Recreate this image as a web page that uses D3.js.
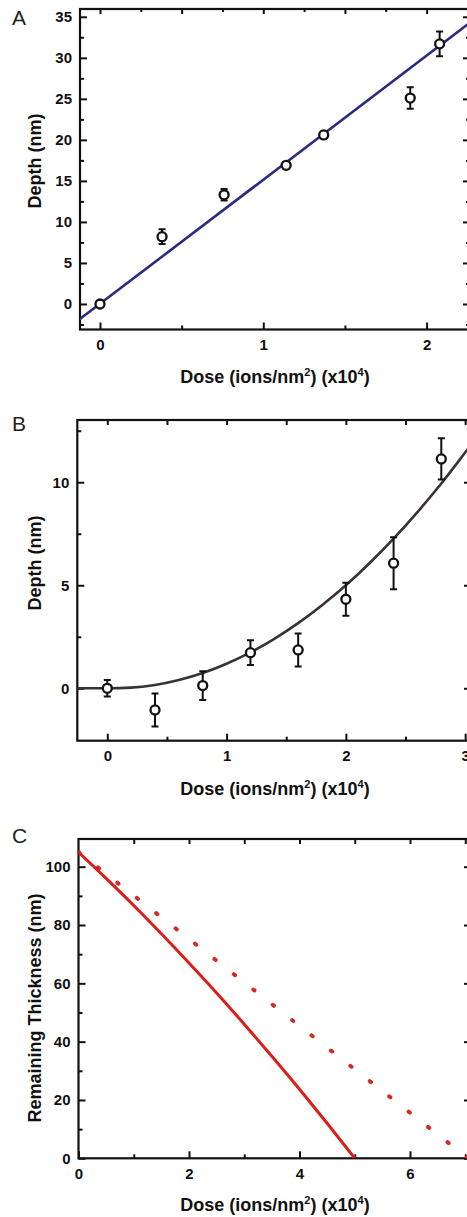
<!DOCTYPE html>
<html>
<head>
<meta charset="utf-8">
<script src="https://cdn.jsdelivr.net/npm/d3@7"></script>
<style>
  body { margin: 0; background: #fff; }
  svg { display: block; font-family: "Liberation Sans", Arial, sans-serif; }
</style>
</head>
<body>
<div id="chart"></div>
<script>
// A: depth vs dose, linear fit
var doseA = [0, 0.38, 0.76, 1.14, 1.37, 1.90, 2.08];
var depthA = [0, 8.2, 13.3, 16.9, 20.6, 25.1, 31.7];
var errA = [0.3, 0.9, 0.7, 0.4, 0.4, 1.3, 1.5];
var fitDoseA = [-0.2, 2.3];
var fitDepthA = [-3.0, 34.8];

// B: depth vs dose, quadratic fit
var doseB = [0, 0.4, 0.8, 1.2, 1.6, 2.0, 2.4, 2.8];
var depthB = [0, -1.05, 0.13, 1.73, 1.86, 4.32, 6.07, 11.13];
var errB = [0.4, 0.8, 0.7, 0.6, 0.8, 0.8, 1.26, 1.0];
var fitDoseB = [-0.3, 0, 0.2, 0.4, 0.6, 0.8, 1.0, 1.2, 1.4, 1.6, 1.8, 2.0, 2.2, 2.4, 2.6, 2.8, 3.0, 3.1];
var fitDepthB = [0, 0, 0.03, 0.16, 0.40, 0.74, 1.19, 1.74, 2.40, 3.16, 4.03, 5.0, 6.08, 7.26, 8.55, 9.94, 11.44, 12.2];

// C: remaining thickness, solid and dotted curves
var doseC = [0, 0.5, 1, 1.5, 2, 2.5, 3, 3.5, 4, 4.5, 5];
var thickC = [105, 96.0, 86.7, 77.0, 67.0, 56.7, 46.0, 35.0, 23.7, 12.0, 0];
var doseC2 = [0, 7.05];
var thickC2 = [105, 0];

// tick labels
var xTicksA = [0, 1, 2], yTicksA = [0, 5, 10, 15, 20, 25, 30, 35];
var xTicksB = [0, 1, 2, 3], yTicksB = [0, 5, 10];
var xTicksC = [0, 2, 4, 6], yTicksC = [0, 20, 40, 60, 80, 100];

var xTitle = "Dose (ions/nm";

var svg = d3.select("#chart").append("svg")
  .attr("width", 467)
  .attr("height", 1217);

var panels = [
  { id: "A", letterY: 25, left: 80, right: 470, top: 9, bottom: 329.5,
    xDomain: [-0.1225, 2.266], yDomain: [-3.11, 35.95],
    xTicks: xTicksA, xMinor: [0.5, 1.5],
    yTicks: yTicksA, yMinor: [-2.5, 2.5, 7.5, 12.5, 17.5, 22.5, 27.5, 32.5],
    topMajor: [0, 0.5, 1, 1.5, 2], topMinor: [0.25, 0.75, 1.25, 1.75, 2.25],
    yTitle: "Depth (nm)", yTitleY: 161, xTitleY: 383 },
  { id: "B", letterY: 431, left: 77.3, right: 471, top: 420, bottom: 740.7,
    xDomain: [-0.2515, 3.049], yDomain: [-2.544, 13.02],
    xTicks: xTicksB, xMinor: [0.5, 1.5, 2.5],
    yTicks: yTicksB, yMinor: [2.5, 7.5, 12.5],
    topMajor: [0, 0.5, 1, 1.5, 2, 2.5, 3], topMinor: [],
    yTitle: "Depth (nm)", yTitleY: 563, xTitleY: 795 },
  { id: "C", letterY: 843, left: 78.5, right: 471, top: 839, bottom: 1158.3,
    xDomain: [0, 7.104], yDomain: [0, 109.5],
    xTicks: xTicksC, xMinor: [1, 3, 5, 7],
    yTicks: yTicksC, yMinor: [10, 30, 50, 70, 90],
    topMajor: [1, 2, 3, 4, 5, 6, 7], topMinor: [],
    yTitle: "Remaining Thickness (nm)", yTitleY: 1008, xTitleY: 1211 }
];

function styleAxis(g, labels) {
  g.select(".domain").remove();
  g.selectAll("line").attr("stroke", "#111").attr("stroke-width", 2);
  g.selectAll("text")
    .attr("fill", "#111")
    .style("font-size", "15px")
    .style("font-weight", "bold")
    .style("font-family", "'Liberation Sans', Arial, sans-serif");
  if (!labels) g.selectAll("text").remove();
}

function drawPanel(p) {
  var x = d3.scaleLinear().domain(p.xDomain).range([p.left, p.right]);
  var y = d3.scaleLinear().domain(p.yDomain).range([p.bottom, p.top]);
  var g = svg.append("g");

  g.append("clipPath").attr("id", "clip" + p.id)
    .append("rect")
    .attr("x", p.left).attr("y", p.top)
    .attr("width", p.right - p.left).attr("height", p.bottom - p.top);

  // bottom axis
  g.append("g").attr("transform", "translate(0," + p.bottom + ")")
    .call(d3.axisBottom(x).tickValues(p.xTicks).tickSize(-7).tickPadding(10).tickFormat(d3.format("d")))
    .call(styleAxis, true);
  g.append("g").attr("transform", "translate(0," + p.bottom + ")")
    .call(d3.axisBottom(x).tickValues(p.xMinor).tickSize(-4))
    .call(styleAxis, false);
  // top axis
  g.append("g").attr("transform", "translate(0," + p.top + ")")
    .call(d3.axisTop(x).tickValues(p.topMajor).tickSize(-5))
    .call(styleAxis, false);
  g.append("g").attr("transform", "translate(0," + p.top + ")")
    .call(d3.axisTop(x).tickValues(p.topMinor).tickSize(-3))
    .call(styleAxis, false);
  // left axis
  g.append("g").attr("transform", "translate(" + p.left + ",0)")
    .call(d3.axisLeft(y).tickValues(p.yTicks).tickSize(-7).tickPadding(8).tickFormat(d3.format("d")))
    .call(styleAxis, true);
  g.append("g").attr("transform", "translate(" + p.left + ",0)")
    .call(d3.axisLeft(y).tickValues(p.yMinor).tickSize(-4))
    .call(styleAxis, false);
  // right axis (frame edge sits just past the window)
  g.append("g").attr("transform", "translate(" + p.right + ",0)")
    .call(d3.axisRight(y).tickValues(p.yTicks).tickSize(-7))
    .call(styleAxis, false);
  g.append("g").attr("transform", "translate(" + p.right + ",0)")
    .call(d3.axisRight(y).tickValues(p.yMinor).tickSize(-4))
    .call(styleAxis, false);

  // frame
  g.append("rect")
    .attr("x", p.left).attr("y", p.top)
    .attr("width", p.right - p.left).attr("height", p.bottom - p.top)
    .attr("fill", "none").attr("stroke", "#111").attr("stroke-width", 2.2);

  // panel letter
  svg.append("text")
    .attr("x", 12).attr("y", p.letterY)
    .style("font-size", "21px")
    .attr("fill", "#222")
    .text(p.id);

  // x title
  var xt = svg.append("text")
    .attr("x", 275).attr("y", p.xTitleY)
    .attr("text-anchor", "middle")
    .style("font-size", "18px").style("font-weight", "bold")
    .attr("fill", "#111");
  xt.append("tspan").text(xTitle);
  xt.append("tspan").attr("dy", -7).style("font-size", "11px").text("2");
  xt.append("tspan").attr("dy", 7).text(") (x10");
  xt.append("tspan").attr("dy", -7).style("font-size", "11px").text("4");
  xt.append("tspan").attr("dy", 7).text(")");

  // y title
  svg.append("text")
    .attr("transform", "translate(41," + p.yTitleY + ") rotate(-90)")
    .attr("text-anchor", "middle")
    .style("font-size", "18px").style("font-weight", "bold")
    .attr("fill", "#111")
    .text(p.yTitle);

  return { g: g, x: x, y: y };
}

function drawPoints(c, id, doses, vals, errs) {
  var pts = doses.map(function (d, i) { return { d: d, v: vals[i], e: errs[i] }; });
  var eg = c.g.append("g").attr("clip-path", "url(#clip" + id + ")")
    .attr("stroke", "#111").attr("stroke-width", 2);
  eg.selectAll(".bar").data(pts).enter().append("line")
    .attr("x1", function (d) { return c.x(d.d); })
    .attr("x2", function (d) { return c.x(d.d); })
    .attr("y1", function (d) { return c.y(d.v - d.e); })
    .attr("y2", function (d) { return c.y(d.v + d.e); });
  [-1, 1].forEach(function (s) {
    eg.selectAll(".cap" + s).data(pts).enter().append("line")
      .attr("x1", function (d) { return c.x(d.d) - 3.5; })
      .attr("x2", function (d) { return c.x(d.d) + 3.5; })
      .attr("y1", function (d) { return c.y(d.v + s * d.e); })
      .attr("y2", function (d) { return c.y(d.v + s * d.e); });
  });
  c.g.append("g").selectAll("circle").data(pts).enter().append("circle")
    .attr("cx", function (d) { return c.x(d.d); })
    .attr("cy", function (d) { return c.y(d.v); })
    .attr("r", 4.5)
    .attr("fill", "#fff")
    .attr("stroke", "#111")
    .attr("stroke-width", 2.3);
}

function drawLine(c, id, doses, vals, color, width, curve, dash) {
  var line = d3.line()
    .x(function (d) { return c.x(d[0]); })
    .y(function (d) { return c.y(d[1]); })
    .curve(curve);
  var path = c.g.append("path")
    .datum(doses.map(function (d, i) { return [d, vals[i]]; }))
    .attr("clip-path", "url(#clip" + id + ")")
    .attr("d", line)
    .attr("fill", "none")
    .attr("stroke", color)
    .attr("stroke-width", width);
  if (dash) path.attr("stroke-dasharray", dash).attr("stroke-linecap", "round");
  return path;
}

var cA = drawPanel(panels[0]);
drawLine(cA, "A", fitDoseA, fitDepthA, "#2d2b7d", 2.6, d3.curveLinear);
drawPoints(cA, "A", doseA, depthA, errA);

var cB = drawPanel(panels[1]);
drawLine(cB, "B", fitDoseB, fitDepthB, "#3a3232", 2.6, d3.curveMonotoneX);
drawPoints(cB, "B", doseB, depthB, errB);

var cC = drawPanel(panels[2]);
drawLine(cC, "C", doseC2, thickC2, "#d42a26", 4, d3.curveLinear, "1.5,23.2");
drawLine(cC, "C", doseC, thickC, "#dc1e1a", 3, d3.curveMonotoneX);
</script>
</body>
</html>
